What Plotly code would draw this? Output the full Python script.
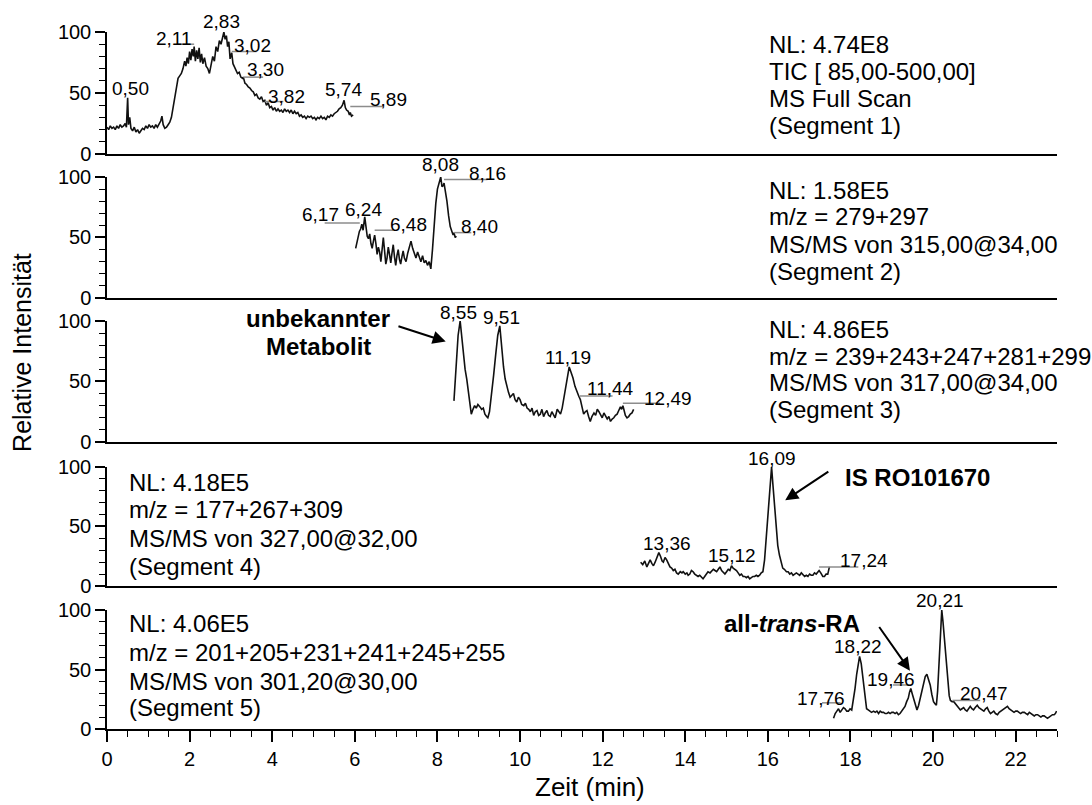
import plotly.graph_objects as go

FONT = "Liberation Sans, Arial, Helvetica, sans-serif"

# ---- chromatogram traces: (retention time [min], relative intensity [%]) ----
SEG1 = [
    (0.00, 22), (0.04, 20), (0.08, 23), (0.12, 21), (0.16, 22), (0.20, 20), (0.24, 23), (0.28, 21),
    (0.32, 24), (0.36, 22), (0.40, 23), (0.44, 25), (0.47, 22), (0.50, 46), (0.52, 24), (0.55, 30),
    (0.58, 21), (0.62, 19), (0.66, 22), (0.70, 18), (0.74, 20), (0.78, 17), (0.82, 19), (0.86, 21),
    (0.90, 20), (0.94, 23), (0.98, 21), (1.02, 24), (1.06, 22), (1.10, 23), (1.14, 21), (1.18, 24),
    (1.22, 22), (1.26, 25), (1.30, 27), (1.33, 31), (1.36, 24), (1.40, 21), (1.44, 22), (1.48, 24),
    (1.52, 26), (1.56, 30), (1.60, 38), (1.64, 48), (1.68, 57), (1.72, 62), (1.76, 64), (1.80, 66),
    (1.84, 70), (1.88, 76), (1.91, 72), (1.94, 79), (1.97, 74), (2.00, 84), (2.03, 77), (2.06, 86),
    (2.09, 80), (2.11, 88), (2.14, 76), (2.17, 85), (2.20, 78), (2.23, 87), (2.26, 75), (2.29, 82),
    (2.32, 74), (2.36, 79), (2.40, 72), (2.44, 70), (2.48, 66), (2.52, 73), (2.56, 80), (2.60, 76),
    (2.64, 88), (2.68, 84), (2.72, 93), (2.76, 90), (2.80, 96), (2.83, 100), (2.86, 94), (2.89, 97),
    (2.92, 88), (2.95, 92), (2.98, 78), (3.02, 83), (3.05, 74), (3.08, 72), (3.12, 70), (3.16, 66),
    (3.20, 67), (3.24, 63), (3.28, 62), (3.30, 63), (3.34, 58), (3.38, 57), (3.42, 55), (3.46, 54),
    (3.50, 52), (3.54, 51), (3.58, 48), (3.62, 49), (3.66, 46), (3.70, 45), (3.74, 47), (3.78, 43),
    (3.82, 44), (3.86, 40), (3.90, 42), (3.94, 38), (3.98, 39), (4.02, 36), (4.06, 38), (4.10, 35),
    (4.14, 37), (4.18, 35), (4.22, 36), (4.26, 34), (4.30, 37), (4.34, 35), (4.38, 36), (4.42, 34),
    (4.46, 36), (4.50, 33), (4.54, 35), (4.58, 33), (4.62, 34), (4.66, 31), (4.70, 32), (4.74, 30),
    (4.78, 31), (4.82, 29), (4.86, 31), (4.90, 30), (4.94, 31), (4.98, 29), (5.02, 30), (5.06, 28),
    (5.10, 30), (5.14, 29), (5.18, 31), (5.22, 29), (5.26, 30), (5.30, 28), (5.34, 31), (5.38, 30),
    (5.42, 32), (5.46, 31), (5.50, 33), (5.54, 34), (5.58, 35), (5.62, 37), (5.66, 38), (5.70, 40),
    (5.74, 44), (5.77, 38), (5.80, 36), (5.84, 35), (5.87, 32), (5.89, 34), (5.92, 31), (5.96, 32),
]

SEG2 = [
    (6.02, 41), (6.05, 46), (6.08, 52), (6.11, 55), (6.14, 57), (6.17, 61), (6.20, 56), (6.22, 63),
    (6.24, 67), (6.27, 59), (6.30, 51), (6.33, 49), (6.36, 53), (6.39, 45), (6.42, 41), (6.45, 47),
    (6.48, 52), (6.51, 45), (6.54, 36), (6.57, 42), (6.60, 38), (6.63, 30), (6.66, 43), (6.69, 50),
    (6.72, 39), (6.75, 28), (6.78, 33), (6.81, 42), (6.84, 36), (6.87, 29), (6.90, 37), (6.93, 44),
    (6.96, 34), (6.99, 27), (7.02, 35), (7.05, 40), (7.08, 32), (7.11, 28), (7.14, 34), (7.17, 39),
    (7.20, 33), (7.24, 30), (7.28, 37), (7.32, 43), (7.36, 47), (7.40, 41), (7.44, 36), (7.48, 33),
    (7.52, 38), (7.56, 34), (7.60, 30), (7.64, 35), (7.68, 29), (7.72, 31), (7.76, 27), (7.80, 30),
    (7.84, 24), (7.88, 40), (7.92, 60), (7.96, 78), (8.00, 90), (8.04, 96), (8.08, 100), (8.11, 92),
    (8.14, 93), (8.16, 95), (8.19, 89), (8.23, 80), (8.27, 68), (8.31, 59), (8.35, 55), (8.38, 52),
    (8.40, 54), (8.43, 50), (8.46, 51),
]

SEG3 = [
    (8.40, 34), (8.45, 60), (8.50, 88), (8.55, 100), (8.59, 85), (8.63, 70), (8.67, 60), (8.71, 52),
    (8.75, 40), (8.79, 28), (8.82, 23), (8.86, 27), (8.90, 30), (8.94, 28), (8.98, 31), (9.03, 29),
    (9.07, 27), (9.11, 28), (9.15, 23), (9.19, 21), (9.22, 20), (9.26, 25), (9.31, 38), (9.36, 55),
    (9.41, 72), (9.46, 88), (9.51, 96), (9.55, 80), (9.60, 62), (9.64, 52), (9.68, 45), (9.72, 41),
    (9.76, 37), (9.80, 39), (9.84, 40), (9.88, 35), (9.92, 33), (9.96, 37), (10.00, 35), (10.04, 31),
    (10.09, 30), (10.13, 32), (10.17, 28), (10.21, 27), (10.25, 25), (10.29, 28), (10.33, 22), (10.37, 25),
    (10.41, 26), (10.45, 22), (10.49, 23), (10.53, 27), (10.57, 21), (10.61, 24), (10.65, 26), (10.69, 22),
    (10.73, 21), (10.77, 25), (10.81, 23), (10.85, 20), (10.90, 27), (10.94, 25), (10.98, 23), (11.02, 28),
    (11.06, 36), (11.10, 46), (11.14, 55), (11.19, 62), (11.23, 58), (11.28, 53), (11.33, 46), (11.38, 41),
    (11.42, 38), (11.46, 35), (11.50, 28), (11.54, 23), (11.58, 25), (11.62, 26), (11.66, 21), (11.70, 17),
    (11.74, 21), (11.79, 24), (11.83, 22), (11.87, 27), (11.91, 25), (11.95, 22), (11.99, 20), (12.03, 24),
    (12.07, 22), (12.11, 19), (12.15, 21), (12.19, 17), (12.23, 19), (12.27, 20), (12.31, 22), (12.35, 23),
    (12.39, 26), (12.43, 29), (12.46, 27), (12.49, 30), (12.52, 26), (12.55, 22), (12.59, 20), (12.63, 21),
    (12.67, 23), (12.71, 24), (12.75, 27),
]

SEG4 = [
    (12.92, 20), (12.97, 18), (13.02, 21), (13.07, 16), (13.11, 19), (13.15, 22), (13.19, 19), (13.23, 17),
    (13.27, 20), (13.31, 23), (13.36, 28), (13.40, 25), (13.44, 21), (13.47, 20), (13.51, 24), (13.55, 22),
    (13.59, 19), (13.63, 16), (13.67, 15), (13.71, 13), (13.75, 14), (13.79, 11), (13.83, 10), (13.88, 12),
    (13.92, 11), (13.95, 12), (14.00, 10), (14.04, 11), (14.07, 9), (14.11, 10), (14.15, 13), (14.19, 12),
    (14.23, 10), (14.27, 9), (14.31, 8), (14.35, 9), (14.39, 7), (14.43, 6), (14.47, 8), (14.51, 10),
    (14.55, 12), (14.60, 11), (14.64, 13), (14.68, 14), (14.72, 13), (14.76, 12), (14.80, 14), (14.84, 16),
    (14.88, 13), (14.92, 11), (14.96, 10), (15.00, 12), (15.04, 14), (15.08, 13), (15.12, 17), (15.16, 15),
    (15.20, 14), (15.24, 13), (15.28, 11), (15.32, 9), (15.36, 10), (15.40, 8), (15.44, 8), (15.48, 7),
    (15.52, 8), (15.56, 6), (15.60, 7), (15.64, 8), (15.68, 8), (15.72, 9), (15.76, 8), (15.80, 9),
    (15.84, 11), (15.88, 12), (15.92, 22), (15.96, 40), (16.00, 58), (16.03, 72), (16.06, 88), (16.09, 100),
    (16.12, 86), (16.15, 72), (16.18, 58), (16.21, 44), (16.24, 34), (16.28, 26), (16.32, 19), (16.36, 15),
    (16.40, 14), (16.45, 12), (16.49, 12), (16.53, 10), (16.57, 11), (16.61, 9), (16.65, 10), (16.69, 11),
    (16.73, 10), (16.77, 9), (16.81, 11), (16.85, 9), (16.89, 8), (16.93, 9), (16.97, 8), (17.01, 10),
    (17.05, 9), (17.09, 9), (17.13, 11), (17.17, 10), (17.21, 12), (17.24, 13), (17.28, 11), (17.33, 8),
    (17.37, 8), (17.41, 10), (17.45, 10), (17.49, 16),
]

SEG5 = [
    (17.59, 9), (17.63, 13), (17.67, 15), (17.71, 17), (17.75, 14), (17.79, 16), (17.83, 18), (17.87, 17),
    (17.91, 15), (17.95, 15), (17.99, 17), (18.03, 16), (18.07, 24), (18.11, 34), (18.15, 46), (18.19, 56),
    (18.22, 61), (18.26, 55), (18.31, 42), (18.35, 28), (18.39, 17), (18.43, 16), (18.47, 15), (18.51, 14),
    (18.56, 15), (18.60, 14), (18.64, 15), (18.68, 13), (18.72, 15), (18.76, 14), (18.80, 14), (18.84, 13),
    (18.88, 13), (18.92, 14), (18.96, 13), (19.00, 14), (19.04, 14), (19.08, 13), (19.12, 14), (19.16, 12),
    (19.20, 13), (19.24, 15), (19.28, 17), (19.32, 19), (19.36, 23), (19.40, 26), (19.43, 31), (19.46, 34),
    (19.50, 29), (19.54, 24), (19.58, 18), (19.61, 16), (19.65, 20), (19.69, 26), (19.73, 33), (19.77, 39),
    (19.81, 44), (19.85, 46), (19.89, 42), (19.93, 37), (19.97, 29), (20.01, 23), (20.05, 21), (20.08, 20),
    (20.11, 32), (20.14, 52), (20.17, 75), (20.19, 88), (20.21, 100), (20.24, 90), (20.27, 78), (20.30, 62),
    (20.33, 47), (20.36, 36), (20.39, 28), (20.42, 24), (20.46, 23), (20.50, 23), (20.54, 21), (20.58, 19),
    (20.62, 18), (20.66, 16), (20.70, 17), (20.74, 18), (20.78, 16), (20.82, 15), (20.86, 17), (20.90, 19),
    (20.94, 17), (20.98, 16), (21.02, 18), (21.07, 20), (21.11, 18), (21.15, 17), (21.19, 16), (21.23, 15),
    (21.27, 17), (21.31, 18), (21.35, 15), (21.39, 13), (21.43, 14), (21.47, 15), (21.51, 13), (21.56, 12),
    (21.60, 14), (21.64, 15), (21.68, 16), (21.72, 17), (21.76, 18), (21.80, 19), (21.84, 17), (21.88, 16),
    (21.92, 15), (21.96, 14), (22.00, 15), (22.04, 15), (22.08, 14), (22.12, 13), (22.16, 14), (22.21, 14),
    (22.25, 13), (22.29, 12), (22.33, 14), (22.37, 13), (22.41, 12), (22.45, 11), (22.49, 12), (22.53, 12),
    (22.57, 11), (22.61, 10), (22.65, 11), (22.69, 11), (22.73, 10), (22.77, 9), (22.81, 10), (22.85, 11),
    (22.89, 12), (22.93, 12), (22.96, 13), (22.99, 15),
]

SEGMENTS = [SEG1, SEG2, SEG3, SEG4, SEG5]

# labelled peak retention times per segment
PEAKS = [
    [0.50, 2.11, 2.83, 3.02, 3.30, 3.82, 5.74, 5.89],
    [6.17, 6.24, 6.48, 8.08, 8.16, 8.40],
    [8.55, 9.51, 11.19, 11.44, 12.49],
    [13.36, 15.12, 16.09, 17.24],
    [17.76, 18.22, 19.46, 20.21, 20.47],
]

# scan description blocks per segment
HEADERS = [
    ["NL: 4.74E8", "TIC [ 85,00-500,00]", "MS Full Scan", "(Segment 1)"],
    ["NL: 1.58E5", "m/z = 279+297", "MS/MS von 315,00@34,00", "(Segment 2)"],
    ["NL: 4.86E5", "m/z = 239+243+247+281+299", "MS/MS von 317,00@34,00", "(Segment 3)"],
    ["NL: 4.18E5", "m/z = 177+267+309", "MS/MS von 327,00@32,00", "(Segment 4)"],
    ["NL: 4.06E5", "m/z = 201+205+231+241+245+255", "MS/MS von 301,20@30,00", "(Segment 5)"],
]

X_TICKS = [0, 2, 4, 6, 8, 10, 12, 14, 16, 18, 20, 22]
Y_TICKS = [0, 50, 100]
Y_MAX = 100

# ---- layout / styling ----
# label placement for each peak label: (anchor, x offset [min], text y, leader (dx0, dx1, y) or None)
LABEL_STYLE = [
    [("center", 0.08, 54, None), ("right", 0.0, 95, (-0.42, 0.0, 90)), ("center", -0.05, 109, None),
     ("left", 0.0, 89, (0.0, 0.6, 84)), ("left", 0.03, 69, (0.0, 0.48, 63)),
     ("left", 0.04, 47, (0.0, 0.45, 43)), ("center", -0.02, 53, None),
     ("left", 0.43, 45, (0.0, 0.8, 39))],
    [("right", -0.5, 69, (-0.9, -0.05, 62)), ("center", -0.02, 73, None),
     ("left", 0.32, 61, (0.0, 0.45, 56)), ("center", 0.0, 110, None),
     ("left", 0.55, 103, (0.0, 1.05, 98)), ("left", 0.12, 59, (0.0, 0.42, 54))],
    [("center", -0.04, 107, None), ("center", 0.05, 103, None), ("center", -0.02, 70, None),
     ("left", 0.13, 44, (0.0, 0.8, 38)), ("left", 0.46, 36, (0.0, 0.9, 32))],
    [("center", 0.2, 36, None), ("center", 0.01, 26, None), ("center", 0.0, 107, None),
     ("left", 0.46, 21, (0.0, 0.95, 16))],
    [("right", 0.16, 26, (-0.45, 0.0, 22)), ("center", -0.04, 69, None),
     ("right", 0.15, 42, (-0.43, 0.0, 37)), ("center", -0.04, 108, None),
     ("left", 0.13, 30, (0.0, 0.67, 24))],
]

HEADER_X = [15.98, 15.98, 15.98, 0.48, 0.48]
HEADER_Y = [[90, 68, 45.5, 23], [89, 67, 44.5, 22], [93, 71, 49, 27], [87, 64, 40, 16], [89, 64, 40, 18]]

DOMAINS = [(0.825, 1.0), (0.6184, 0.792), (0.4118, 0.5854), (0.2052, 0.3759), (0.0, 0.1707)]

LEADER_COLOR = "#8c8c8c"
TRACE_COLOR = "#111111"
LABEL_SIZE = 19
HEADER_SIZE = 24
TICK_SIZE = 20
BOLD = dict(family=FONT, size=24, color="black")

fig = go.Figure()
annotations = []
shapes = []


def xr(n):
    return "x" if n == 1 else f"x{n}"


def yr(n):
    return "y" if n == 1 else f"y{n}"


def dom(v):
    """Intensity value -> fraction of the panel height (usable above 100 %)."""
    return v / Y_MAX


for i, seg in enumerate(SEGMENTS):
    n = i + 1
    xs = [p[0] for p in seg]
    ys = [p[1] for p in seg]
    fig.add_trace(go.Scatter(
        x=xs, y=ys, mode="lines", line=dict(color=TRACE_COLOR, width=1.6),
        xaxis=xr(n), yaxis=yr(n), showlegend=False, hoverinfo="skip",
    ))

    # peak labels with grey leader lines
    for t, (anchor, dx, ty, lead) in zip(PEAKS[i], LABEL_STYLE[i]):
        annotations.append(dict(
            x=t + dx, y=dom(ty), xref=xr(n), yref=f"{yr(n)} domain",
            text=f"{t:.2f}".replace(".", ","),
            showarrow=False, xanchor=anchor, yanchor="middle",
            font=dict(family=FONT, size=LABEL_SIZE, color="black"),
        ))
        if lead is not None:
            shapes.append(dict(
                type="line", xref=xr(n), yref=yr(n),
                x0=t + lead[0], x1=t + lead[1], y0=lead[2], y1=lead[2],
                line=dict(color=LEADER_COLOR, width=1.5),
            ))

    # scan description
    for line, hy in zip(HEADERS[i], HEADER_Y[i]):
        annotations.append(dict(
            x=HEADER_X[i], y=dom(hy), xref=xr(n), yref=f"{yr(n)} domain", text=line, showarrow=False,
            xanchor="left", yanchor="middle", font=dict(family=FONT, size=HEADER_SIZE, color="black"),
        ))

# compound call-outs
annotations += [
    dict(x=5.11, y=dom(102), xref="x3", yref="y3 domain", text="<b>unbekannter</b>", showarrow=False,
         xanchor="center", yanchor="middle", font=BOLD),
    dict(x=5.11, y=dom(79), xref="x3", yref="y3 domain", text="<b>Metabolit</b>", showarrow=False,
         xanchor="center", yanchor="middle", font=BOLD),
    dict(x=8.2, y=83, ax=7.02, ay=96, xref="x3", yref="y3", axref="x3", ayref="y3", text="",
         showarrow=True, arrowhead=2, arrowsize=1.3, arrowwidth=2, arrowcolor="black"),
    dict(x=17.82, y=dom(91), xref="x4", yref="y4 domain", text="<b>IS RO101670</b>", showarrow=False,
         xanchor="left", yanchor="middle", font=BOLD),
    dict(x=16.42, y=72, ax=17.5, ay=97, xref="x4", yref="y4", axref="x4", ayref="y4", text="",
         showarrow=True, arrowhead=2, arrowsize=1.3, arrowwidth=2, arrowcolor="black"),
    dict(x=18.28, y=dom(89), xref="x5", yref="y5 domain", text="<b>all-<i>trans</i>-RA</b>",
         showarrow=False, xanchor="right", yanchor="middle", font=BOLD),
    dict(x=19.44, y=49, ax=18.67, ay=87, xref="x5", yref="y5", axref="x5", ayref="y5", text="",
         showarrow=True, arrowhead=2, arrowsize=1.3, arrowwidth=2, arrowcolor="black"),
    dict(x=-0.0895, y=0.541, xref="paper", yref="paper", text="Relative Intensität", showarrow=False,
         textangle=-90, xanchor="center", yanchor="middle", font=dict(family=FONT, size=25, color="black")),
    dict(x=0.508, y=-0.083, xref="paper", yref="paper", text="Zeit (min)", showarrow=False,
         xanchor="center", yanchor="middle", font=dict(family=FONT, size=26, color="black")),
]

layout = dict(
    width=1092, height=805,
    margin=dict(l=107, r=35, t=32, b=76),
    paper_bgcolor="white", plot_bgcolor="white",
    annotations=annotations, shapes=shapes,
)

for i, d in enumerate(DOMAINS):
    n = i + 1
    bottom = n == len(DOMAINS)
    xa = dict(
        domain=[0, 1], anchor=yr(n), range=[0, 23], showgrid=False, zeroline=False,
        showline=True, linecolor="black", linewidth=1.5,
        ticks="outside" if bottom else "", showticklabels=bottom,
        tickvals=X_TICKS, ticklen=11, tickwidth=1.5, tickcolor="black",
        tickfont=dict(family=FONT, size=TICK_SIZE, color="black"),
    )
    if bottom:
        xa["minor"] = dict(dtick=0.5, tick0=0, ticks="outside", ticklen=6, tickwidth=1.2, tickcolor="black")
    ya = dict(
        domain=list(d), anchor=xr(n), range=[0, Y_MAX], showgrid=False, zeroline=False,
        showline=True, linecolor="black", linewidth=1.5,
        ticks="outside", tickvals=Y_TICKS, ticklen=10, tickwidth=1.5, tickcolor="black",
        tickfont=dict(family=FONT, size=TICK_SIZE, color="black"),
        minor=dict(dtick=10, tick0=0, ticks="outside", ticklen=6, tickwidth=1.2, tickcolor="black"),
    )
    layout["xaxis" if n == 1 else f"xaxis{n}"] = xa
    layout["yaxis" if n == 1 else f"yaxis{n}"] = ya

fig.update_layout(**layout)
fig.write_html("out.html")
